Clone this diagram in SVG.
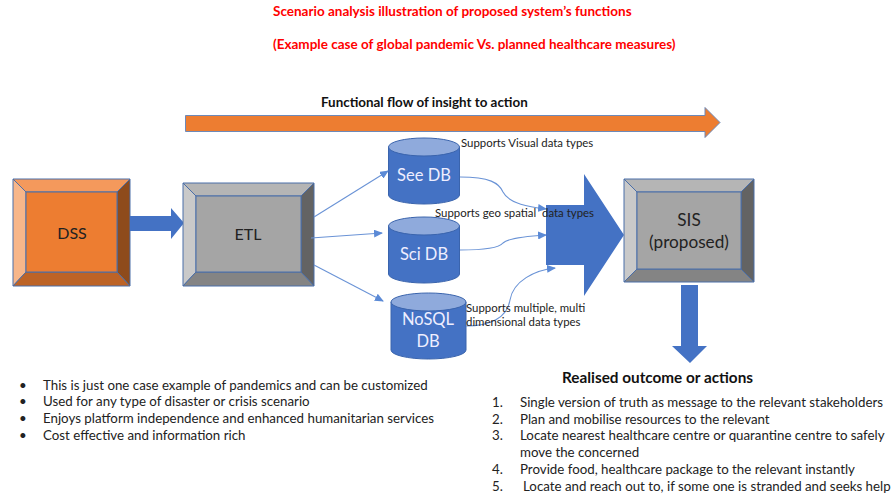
<svg xmlns="http://www.w3.org/2000/svg" width="893" height="497" viewBox="0 0 893 497">
<style>
text{font-family:Lato,"Liberation Sans",sans-serif;fill:#111}
.t{font-weight:700;fill:#f00;font-size:13.5px}
.l{font-size:11.4px;fill:#222}
.b{font-size:13.3px;fill:#222}
.n{font-size:16px;text-anchor:middle;fill:#222}
.p{font-size:17.2px}
.w{font-size:16.5px;text-anchor:middle;fill:#eef}
.e{stroke:#4a6ea8;stroke-width:1;stroke-linejoin:round}
.blue{fill:#4472c4}
.cy{fill:#4472c4;stroke:#3a64ad;stroke-width:1}
.top{fill:#8faadc;stroke:#3a64ad;stroke-width:1}
.c{fill:none;stroke:#6a93d6;stroke-width:1.1;marker-end:url(#a)}
</style>
<defs><marker id="a" markerWidth="9" markerHeight="8" refX="8" refY="4" orient="auto" markerUnits="userSpaceOnUse"><path d="M0 0L9 4L0 8Z" fill="#5b8ad6"/></marker></defs>
<g id="title">
<text class="t" x="273" y="16">Scenario analysis illustration of proposed system’s functions</text>
<text class="t" x="273" y="49">(Example case of global pandemic Vs. planned healthcare measures)</text>
</g>
<g id="flow">
<path d="M185.500 115.500H705V107.500L720 122.500L705 137.500V131.500H185.500Z" fill="#ed7d31" stroke="#6d89b8"/>
<text x="321" y="107" font-size="13.4" font-weight="700">Functional flow of insight to action</text>
</g>
<g id="dss">
<path class="e" d="M13 179H130L117 192H26Z" fill="#f4995c"/>
<path class="e" d="M13 179L26 192V272L13 286Z" fill="#f7b68a"/>
<path class="e" d="M130 179V286L117 272V192Z" fill="#8e4b1c"/>
<path class="e" d="M13 286L26 272H117L130 286Z" fill="#bd6326"/>
<rect class="e" x="26" y="192" width="91" height="80" fill="#ed7d31"/>
<text class="n" x="72" y="239">DSS</text>
</g>
<path id="dss-arrow" class="blue" d="M130 216H171V208L184 223L171 239V231H130Z"/>
<g id="etl">
<path class="e" d="M183 183H314L301 196H196Z" fill="#b5b5b5"/>
<path class="e" d="M183 183L196 196V272L183 286Z" fill="#c9c9c9"/>
<path class="e" d="M314 183V286L301 272V196Z" fill="#636363"/>
<path class="e" d="M183 286L196 272H301L314 286Z" fill="#848484"/>
<rect class="e" x="196" y="196" width="105" height="76" fill="#a5a5a5"/>
<text class="n" x="248" y="240">ETL</text>
</g>
<g id="see-db">
<path class="cy" d="M388.500 147V195A35.500 9 0 0 0 459.500 195V147Z"/>
<ellipse class="top" cx="424" cy="147" rx="35.500" ry="9"/>
<text class="w" x="424" y="181">See DB</text>
</g>
<g id="sci-db">
<path class="cy" d="M388.500 226V274A35.500 9 0 0 0 459.500 274V226Z"/>
<ellipse class="top" cx="424" cy="226" rx="35.500" ry="9"/>
<text class="w" x="424" y="260">Sci DB</text>
</g>
<g id="nosql-db">
<path class="cy" d="M391 302V350A37.500 9 0 0 0 466 350V302Z"/>
<ellipse class="top" cx="428.500" cy="302" rx="37.500" ry="9"/>
<text class="w" x="428" y="325">NoSQL</text>
<text class="w" x="428" y="347">DB</text>
</g>
<g id="connectors">
<path class="c" d="M314 217L388 171"/>
<path class="c" d="M311 238L382 233"/>
<path class="c" d="M314 265L383 301"/>
<path class="c" d="M460 177C490 177 499 183 503 192C509 204 530 207 546 209"/>
<path class="c" d="M460 250C480 250 498 249 503 243C508 238 530 236 546 235"/>
<path class="c" d="M466 326C490 326 507 318 510 300C513 281 535 270 555 268"/>
</g>
<path id="merge-arrow" class="blue" d="M546 205H584V174L624 235L584 296V265H546Z"/>
<g id="sis">
<path class="e" d="M624 179H754L741 192H637Z" fill="#b5b5b5"/>
<path class="e" d="M624 179L637 192V269L624 282Z" fill="#c9c9c9"/>
<path class="e" d="M754 179V282L741 269V192Z" fill="#636363"/>
<path class="e" d="M624 282L637 269H741L754 282Z" fill="#848484"/>
<rect class="e" x="637" y="192" width="104" height="77" fill="#a5a5a5"/>
<text class="n p" x="689" y="226">SIS</text>
<text class="n p" x="689" y="248">(proposed)</text>
</g>
<path id="down-arrow" class="blue" d="M681 285H698V346H707L690 363L672 346H681Z"/>
<g id="db-labels">
<text class="l" x="461" y="147">Supports Visual data types</text>
<text class="l" x="435" y="217" xml:space="preserve">Supports geo spatial  data types</text>
<text class="l" x="466" y="312">Supports multiple, multi</text>
<text class="l" x="466" y="326">dimensional data types</text>
</g>
<g id="notes">
<text class="b" x="19" y="390">•</text><text class="b" x="43" y="390">This is just one case example of pandemics and can be customized</text>
<text class="b" x="19" y="406">•</text><text class="b" x="43" y="406">Used for any type of disaster or crisis scenario</text>
<text class="b" x="19" y="423">•</text><text class="b" x="43" y="423">Enjoys platform independence and enhanced humanitarian services</text>
<text class="b" x="19" y="440">•</text><text class="b" x="43" y="440">Cost effective and information rich</text>
</g>
<g id="outcome">
<text x="562" y="383" font-size="15.300" font-weight="700">Realised outcome or actions</text>
<text class="b" x="492" y="407">1.</text><text class="b" x="520" y="407">Single version of truth as message to the relevant stakeholders</text>
<text class="b" x="492" y="424">2.</text><text class="b" x="520" y="424">Plan and mobilise resources to the relevant</text>
<text class="b" x="492" y="440">3.</text><text class="b" x="520" y="440">Locate nearest healthcare centre or quarantine centre to safely</text>
<text class="b" x="520" y="457">move the concerned</text>
<text class="b" x="492" y="474">4.</text><text class="b" x="520" y="474">Provide food, healthcare package to the relevant instantly</text>
<text class="b" x="492" y="491">5.</text><text class="b" x="523" y="491">Locate and reach out to, if some one is stranded and seeks help</text>
</g>
</svg>
